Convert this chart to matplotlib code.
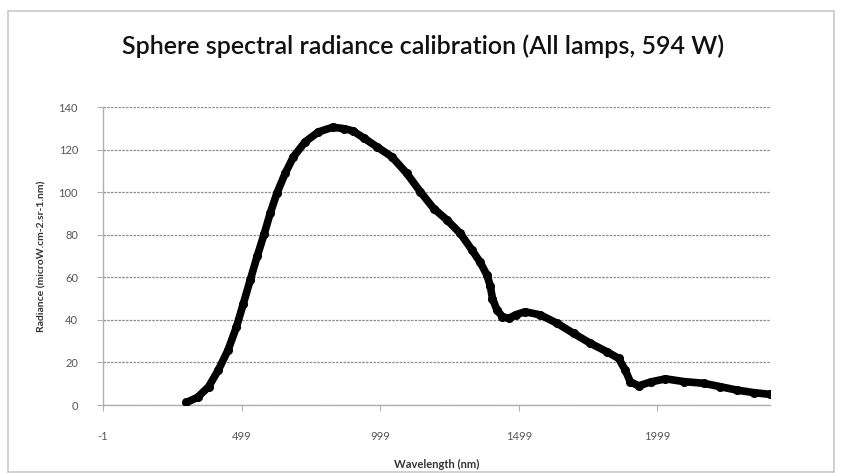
import matplotlib.pyplot as plt
from matplotlib.patches import Rectangle

# wavelength (nm) and sphere radiance (microW.cm-2.sr-1.nm)
wavelength = [300, 340, 380, 415, 450, 480, 505, 530, 555, 580, 602, 626,
              656, 686, 728, 776, 828, 870, 900, 939, 987, 1041, 1095, 1144,
              1192, 1240, 1288, 1330, 1360, 1384, 1396, 1404, 1420, 1440,
              1462, 1490, 1522, 1577, 1637, 1697, 1757, 1817, 1859, 1883,
              1901, 1931, 1974, 2028, 2094, 2166, 2226, 2286, 2347, 2405]
radiance = [1.2, 3.6, 8.6, 16.4, 25.8, 36.5, 47.5, 58.7, 69.8, 80.2, 90.0, 99.4,
            108.8, 116.6, 123.6, 128.3, 130.5, 129.8, 128.8, 125.5, 121.3, 116.6,
            108.8, 100.1, 92.3, 86.9, 80.6, 72.8, 67.0, 61.0, 56.0, 50.0, 44.6,
            41.5, 40.7, 42.5, 43.8, 42.3, 38.4, 33.6, 29.0, 25.0, 21.9, 16.4,
            10.9, 9.0, 10.8, 12.3, 11.0, 10.2, 8.6, 7.0, 5.8, 5.0]

xticks = [-1, 499, 999, 1499, 1999]
yticks = [0, 20, 40, 60, 80, 100, 120, 140]

plt.rcParams['font.family'] = ['Lato', 'DejaVu Sans']

W, H = 841, 473
fig = plt.figure(figsize=(W / 100, H / 100), dpi=100)
fig.patch.set_facecolor('white')

# chart frame
fig.patches.append(Rectangle((8 / W, 1 / H), 826 / W, (H - 12) / H,
                             transform=fig.transFigure, fill=False,
                             edgecolor='#c8c8c8', linewidth=1.2))

ax = fig.add_axes([103 / W, (H - 405) / H, 667 / W, 298 / H])

ax.plot(wavelength, radiance, color='black', linewidth=5.5,
        solid_capstyle='round', solid_joinstyle='round',
        marker='o', markersize=5.5, zorder=3)

ax.set_xlim(-1, 2405)
ax.set_ylim(0, 140)
ax.set_xticks(xticks)
ax.set_xticklabels([str(t) for t in xticks])
ax.set_yticks(yticks)

ax.grid(axis='y', color='#8c8c8c', linestyle=(0, (2, 1)), linewidth=0.9)
ax.set_axisbelow(True)

for side in ['top', 'right']:
    ax.spines[side].set_visible(False)
for side in ['left', 'bottom']:
    ax.spines[side].set_color('#b0b0b0')
    ax.spines[side].set_linewidth(1.0)

ax.tick_params(axis='both', direction='out', length=4, width=0.8,
               color='#b0b0b0', labelcolor='#555555', labelsize=8)
ax.tick_params(axis='x', pad=15)
ax.tick_params(axis='y', pad=14)

ax.set_xlabel('Wavelength (nm)', fontsize=8, fontweight='bold',
              color='#333333', labelpad=12)
ax.set_ylabel('Radiance (microW.cm-2.sr-1.nm)', fontsize=7.5, fontweight='bold',
              color='#333333', labelpad=9)

fig.text(423 / W, 1 - 46 / H, 'Sphere spectral radiance calibration (All lamps, 594 W)',
         ha='center', va='center', fontsize=18, fontweight='semibold',
         color='#111111')

fig.savefig('out.png', dpi=100)
